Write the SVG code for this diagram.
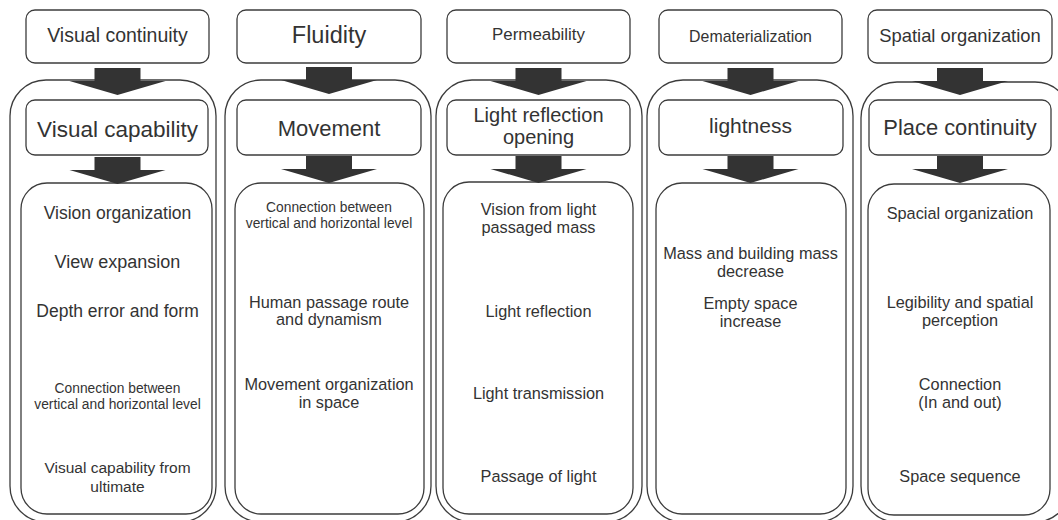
<svg xmlns="http://www.w3.org/2000/svg" xmlns:xlink="http://www.w3.org/1999/xlink" width="1058" height="520" viewBox="0 0 1058 520">
<style>
.box{fill:#fff;stroke:#3c3c3c;stroke-width:1.3}
.arr{fill:#333}
text{font-family:"Liberation Sans",Arial,sans-serif;fill:#333;text-anchor:middle}
</style>
<defs>
<path id="arrow" class="arr" d="M-23,0 H23 V13 H48 L0,27 L-48,13 H-23 Z"/>
</defs>
<rect width="1058" height="520" fill="#fff"/>

<g id="col1">
<rect class="box" x="10" y="80" width="206" height="442" rx="36"/>
<g id="n1a"><rect class="box" x="26" y="10" width="183" height="53" rx="9"/><text x="117.5" y="42" font-size="19.5">Visual continuity</text></g>
<g id="n1b"><rect class="box" x="26" y="100" width="182" height="55" rx="9"/><text x="117.5" y="137" font-size="22.5">Visual capability</text></g>
<g id="n1c"><rect class="box" x="21" y="183" width="191" height="331" rx="26"/>
<text x="117.5" y="219" font-size="17.5">Vision organization</text>
<text x="117.5" y="268" font-size="18">View expansion</text>
<text x="117.5" y="317" font-size="17.5">Depth error and form</text>
<text x="117.5" y="393" font-size="13.8">Connection between</text>
<text x="117.5" y="409" font-size="13.8">vertical and horizontal level</text>
<text x="117.5" y="473" font-size="15.5">Visual capability from</text>
<text x="117.5" y="492" font-size="15.5">ultimate</text>
</g>
</g>

<g id="col2">
<rect class="box" x="225" y="80" width="206" height="442" rx="36"/>
<g id="n2a"><rect class="box" x="237" y="10" width="184" height="53" rx="9"/><text x="329" y="43" font-size="23.5">Fluidity</text></g>
<g id="n2b"><rect class="box" x="237" y="100" width="184" height="55" rx="9"/><text x="329" y="136" font-size="22">Movement</text></g>
<g id="n2c"><rect class="box" x="235" y="183" width="189" height="331" rx="26"/>
<text x="329" y="212" font-size="13.8">Connection between</text>
<text x="329" y="228" font-size="13.8">vertical and horizontal level</text>
<text x="329" y="308" font-size="16.3">Human passage route</text>
<text x="329" y="325" font-size="16.3">and dynamism</text>
<text x="329" y="390" font-size="16.3">Movement organization</text>
<text x="329" y="408" font-size="16.3">in space</text>
</g>
</g>

<g id="col3">
<rect class="box" x="436" y="80" width="206" height="442" rx="36"/>
<g id="n3a"><rect class="box" x="447" y="10" width="183" height="53" rx="9"/><text x="538.5" y="40" font-size="16.9">Permeability</text></g>
<g id="n3b"><rect class="box" x="447" y="100" width="183" height="55" rx="9"/><text x="538.5" y="122" font-size="20">Light reflection</text><text x="538.5" y="144" font-size="20">opening</text></g>
<g id="n3c"><rect class="box" x="443" y="182" width="190" height="332" rx="26"/>
<text x="538.5" y="215" font-size="16.3">Vision from light</text>
<text x="538.5" y="233" font-size="16.3">passaged mass</text>
<text x="538.5" y="317" font-size="16.3">Light reflection</text>
<text x="538.5" y="399" font-size="16.3">Light transmission</text>
<text x="538.5" y="482" font-size="16.3">Passage of light</text>
</g>
</g>

<g id="col4">
<rect class="box" x="647" y="80" width="206" height="442" rx="36"/>
<g id="n4a"><rect class="box" x="659" y="10" width="183" height="53" rx="9"/><text x="750.5" y="42" font-size="15.9">Dematerialization</text></g>
<g id="n4b"><rect class="box" x="659" y="100" width="184" height="55" rx="9"/><text x="750.5" y="133" font-size="21">lightness</text></g>
<g id="n4c"><rect class="box" x="656" y="183" width="190" height="331" rx="26"/>
<text x="750.5" y="259" font-size="16.3">Mass and building mass</text>
<text x="750.5" y="277" font-size="16.3">decrease</text>
<text x="750.5" y="309" font-size="16.3">Empty space</text>
<text x="750.5" y="327" font-size="16.3">increase</text>
</g>
</g>

<g id="col5">
<rect class="box" x="861" y="82" width="210" height="440" rx="36"/>
<g id="n5a"><rect class="box" x="868" y="10" width="184" height="53" rx="9"/><text x="960" y="42" font-size="18.4">Spatial organization</text></g>
<g id="n5b"><rect class="box" x="869" y="100" width="182" height="55" rx="9"/><text x="960" y="135" font-size="21.9">Place continuity</text></g>
<g id="n5c"><rect class="box" x="868" y="184" width="182" height="331" rx="26"/>
<text x="960" y="219" font-size="16.3">Spacial organization</text>
<text x="960" y="308" font-size="16.3">Legibility and spatial</text>
<text x="960" y="326" font-size="16.3">perception</text>
<text x="960" y="390" font-size="16.3">Connection</text>
<text x="960" y="408" font-size="16.3">(In and out)</text>
<text x="960" y="482" font-size="16.3">Space sequence</text>
</g>
</g>

<g id="connectors">
<use xlink:href="#arrow" x="117.5" y="68"/>
<use xlink:href="#arrow" x="117.5" y="157"/>
<use xlink:href="#arrow" x="329" y="67"/>
<use xlink:href="#arrow" x="329" y="156"/>
<use xlink:href="#arrow" x="538.5" y="68"/>
<use xlink:href="#arrow" x="538.5" y="156"/>
<use xlink:href="#arrow" x="750.5" y="68"/>
<use xlink:href="#arrow" x="750.5" y="156"/>
<use xlink:href="#arrow" x="960" y="68"/>
<use xlink:href="#arrow" x="960" y="156"/>
</g>
</svg>
